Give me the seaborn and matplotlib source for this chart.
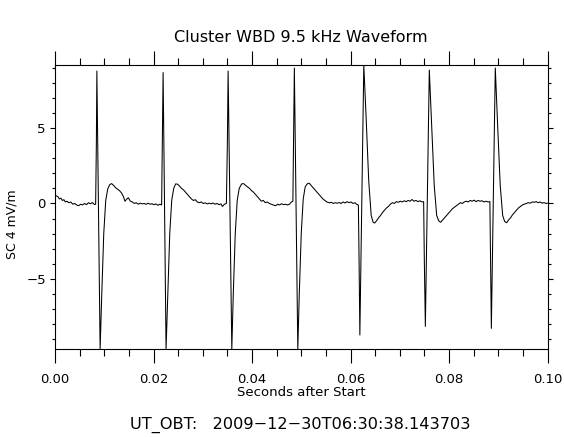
import numpy as np
import pandas as pd
import matplotlib
matplotlib.use("Agg")
import matplotlib.pyplot as plt
import seaborn as sb
from matplotlib.ticker import MultipleLocator

# Waveform (time in ms, field in mV/m)
time_ms = [
    0.0, 0.3, 0.6, 0.9, 1.2, 1.5, 1.8, 2.1, 2.4, 2.8, 3.2, 3.6, 4.0, 4.4, 4.8, 5.2,
    5.6, 6.0, 6.4, 6.8, 7.2, 7.6, 8.0, 8.25,
    # pulse 1
    8.4, 8.5, 9.16, 9.5, 9.9, 10.3, 10.7, 11.1, 11.5, 11.9, 12.3, 12.7, 13.1, 13.5,
    13.9, 14.2, 14.6, 14.9, 15.3, 15.7, 16.1, 16.5, 16.9, 17.3, 17.7, 18.1, 18.5,
    18.9, 19.3, 19.7, 20.1, 20.5, 20.9, 21.3, 21.65,
    # pulse 2
    21.8, 21.95, 22.55, 22.9, 23.3, 23.7, 24.1, 24.5, 24.9, 25.3, 25.7, 26.1, 26.5,
    26.9, 27.3, 27.7, 28.1, 28.5, 28.9, 29.3, 29.7, 30.1, 30.5, 30.9, 31.3, 31.7,
    32.1, 32.5, 32.9, 33.3, 33.7, 34.0, 34.4, 34.8,
    # pulse 3
    35.0, 35.15, 35.9, 36.2, 36.6, 37.0, 37.4, 37.9, 38.3, 38.7, 39.1, 39.5, 39.9,
    40.3, 40.7, 41.1, 41.5, 41.9, 42.3, 42.7, 43.1, 43.5, 43.9, 44.3, 44.8, 45.2,
    45.6, 46.0, 46.4, 46.8, 47.2, 47.6, 48.0, 48.3,
    # pulse 4
    48.45, 48.6, 49.3, 49.6, 50.0, 50.4, 50.8, 51.2, 51.6, 52.0, 52.4, 52.8, 53.2,
    53.6, 54.0, 54.4, 54.8, 55.2, 55.7, 56.1, 56.5, 56.9, 57.3, 57.7, 58.1, 58.5,
    58.9, 59.3, 59.7, 60.1, 60.5, 60.9, 61.3, 61.6,
    # pulse 5 (reversed polarity)
    61.75, 61.9, 62.7, 63.2, 63.7, 64.2, 64.6, 64.9, 65.3, 65.7, 66.1, 66.5, 66.9,
    67.3, 67.7, 68.1, 68.5, 68.9, 69.3, 69.7, 70.1, 70.5, 70.9, 71.3, 71.7, 72.1,
    72.5, 72.9, 73.3, 73.7, 74.1, 74.5, 74.85,
    # pulse 6
    75.0, 75.2, 76.0, 76.5, 77.0, 77.5, 77.9, 78.3, 78.7, 79.1, 79.5, 79.9, 80.3,
    80.7, 81.1, 81.5, 81.9, 82.3, 82.7, 83.1, 83.5, 83.9, 84.3, 84.7, 85.1, 85.5,
    85.9, 86.3, 86.7, 87.1, 87.5, 87.9, 88.3,
    # pulse 7
    88.45, 88.6, 89.4, 89.9, 90.4, 90.9, 91.3, 91.7, 92.1, 92.5, 92.9, 93.3, 93.7,
    94.1, 94.5, 94.9, 95.3, 95.7, 96.1, 96.5, 96.9, 97.3, 97.7, 98.1, 98.5, 98.9,
    99.3, 99.7, 100.0,
]

field = [
    0.55, 0.5, 0.45, 0.3, 0.35, 0.2, 0.25, 0.1, 0.15, 0.05, 0.1, -0.05, 0.0, -0.1,
    -0.15, -0.05, -0.1, 0.0, -0.08, 0.05, -0.02, 0.06, -0.07, -0.05,
    4.0, 8.8, -9.67, -6.0, -2.0, 0.2, 0.95, 1.25, 1.32, 1.2, 1.05, 0.95, 0.85, 0.7,
    0.45, 0.15, 0.3, 0.38, 0.15, 0.1, 0.0, 0.05, -0.05, 0.02, -0.03, 0.0, -0.06,
    0.02, -0.05, -0.02, -0.08, -0.03, -0.12, -0.05, -0.1,
    4.0, 8.7, -9.67, -6.0, -2.0, 0.2, 1.0, 1.3, 1.28, 1.15, 1.0, 0.9, 0.75,
    0.6, 0.45, 0.3, 0.2, 0.25, 0.1, 0.05, 0.1, 0.0, 0.04, -0.03, 0.02, -0.02,
    0.03, -0.05, 0.0, -0.08, -0.03, -0.2, -0.05, 0.0,
    4.0, 8.8, -9.67, -6.0, -2.0, 0.2, 1.0, 1.3, 1.32, 1.2, 1.1, 1.0, 0.85,
    0.75, 0.6, 0.45, 0.3, 0.15, 0.2, 0.05, 0.1, 0.0, -0.05, -0.1, -0.15, -0.05,
    -0.1, -0.02, -0.08, -0.05, -0.1, -0.05, 0.1, 0.15,
    4.5, 9.0, -9.67, -6.0, -2.0, 0.3, 1.1, 1.3, 1.35, 1.2, 1.05, 0.9, 0.75,
    0.6, 0.45, 0.3, 0.2, 0.1, 0.04, 0.08, 0.0, 0.05, 0.02, 0.06, 0.0, 0.1,
    0.03, 0.12, 0.05, 0.1, 0.0, 0.05, -0.07, -0.1,
    -4.0, -8.74, 9.2, 5.5, 1.5, -0.8, -1.25, -1.3, -1.15, -0.95, -0.8, -0.6, -0.45,
    -0.3, -0.2, -0.05, 0.05, 0.0, 0.12, 0.08, 0.15, 0.1, 0.18, 0.12, 0.2, 0.15,
    0.26, 0.15, 0.2, 0.12, 0.18, 0.1, 0.12,
    -4.0, -8.17, 8.87, 5.0, 1.2, -0.8, -1.15, -1.25, -1.1, -0.95, -0.8, -0.65, -0.5,
    -0.35, -0.25, -0.15, -0.05, 0.05, 0.0, 0.1, 0.15, 0.1, 0.2, 0.15, 0.22, 0.12,
    0.2, 0.15, 0.18, 0.1, 0.15, 0.1, 0.12,
    -4.0, -8.3, 9.0, 5.0, 1.2, -0.8, -1.2, -1.28, -1.1, -0.95, -0.75, -0.6, -0.45,
    -0.3, -0.2, -0.1, -0.05, 0.0, 0.05, 0.02, 0.1, 0.08, 0.12, 0.05, 0.1, 0.02,
    0.06, 0.0, 0.02,
]

title = "Cluster WBD 9.5 kHz Waveform"
x_label = "Seconds after Start"
y_label = "SC 4 mV/m"
time_label = "UT_OBT:   2009\u221212\u221230T06:30:38.143703"

df = pd.DataFrame({"t": np.array(time_ms) / 1000.0, "E": field})

sb.set_style("ticks")
plt.rcParams["font.family"] = ["DejaVu Sans"]
plt.rcParams["text.color"] = "black"
plt.rcParams["xtick.color"] = "black"
plt.rcParams["ytick.color"] = "black"

fig = plt.figure(figsize=(5.64, 4.37), dpi=100)
ax = fig.add_axes([55 / 564, 1 - 349 / 437, 492.5 / 564, 284 / 437])

sb.lineplot(data=df, x="t", y="E", color="black", linewidth=0.75,
            estimator=None, sort=False, ax=ax)

ax.set_xlim(0, 0.1)
ax.set_ylim(min(field), max(field))
ax.set_xlabel("")
ax.set_ylabel("")

ax.xaxis.set_major_locator(MultipleLocator(0.02))
ax.xaxis.set_minor_locator(MultipleLocator(0.005))
ax.yaxis.set_major_locator(MultipleLocator(5))
ax.yaxis.set_minor_locator(MultipleLocator(1))
ax.xaxis.set_major_formatter(plt.FuncFormatter(lambda v, p: f"{v:.2f}"))
ax.yaxis.set_major_formatter(plt.FuncFormatter(lambda v, p: f"{v:.0f}".replace("-", "\u2212")))

ax.tick_params(axis="x", which="major", direction="out", length=10, width=0.8,
               top=True, bottom=True, labelsize=9.5, pad=7, labelcolor="black")
ax.tick_params(axis="x", which="minor", direction="out", length=5.2, width=0.8,
               top=True, bottom=True)
ax.tick_params(axis="y", which="major", direction="out", length=3.6, width=0.8,
               left=True, right=True, labelsize=9.5, pad=3, labelcolor="black")
ax.tick_params(axis="y", which="minor", direction="out", length=2, width=0.8,
               left=True, right=True)
for s in ax.spines.values():
    s.set_visible(True)
    s.set_linewidth(0.8)
    s.set_color("black")

fig.text(301 / 564, 1 - 38 / 437, title, ha="center", va="center", fontsize=11.5)
fig.text(301 / 564, 1 - 393 / 437, x_label, ha="center", va="center", fontsize=9.5)
fig.text(12 / 564, 1 - 224 / 437, y_label, ha="center", va="center",
         rotation=90, fontsize=9)
fig.text(300 / 564, 1 - 425 / 437, time_label, ha="center", va="center", fontsize=11.6)

fig.savefig("out.png", dpi=100)
